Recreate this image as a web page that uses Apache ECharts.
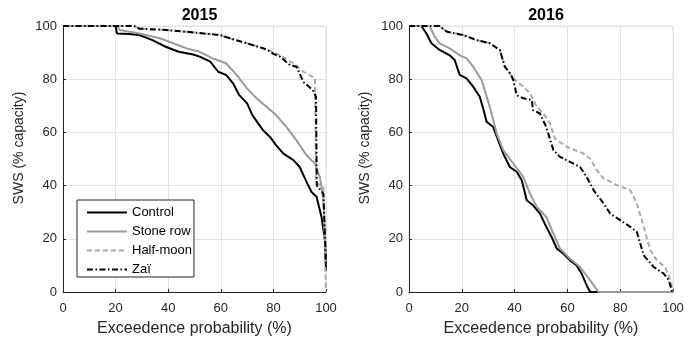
<!DOCTYPE html>
<html><head><meta charset="utf-8">
<script src="https://cdn.jsdelivr.net/npm/echarts@6/dist/echarts.min.js"></script>
<style>html,body{margin:0;padding:0;background:#fff}#c{width:700px;height:345px}</style>
</head><body><div id="c"></div>
<script>
const seriesNames = ['Control','Stone row','Half-moon','Zaï'];
const years = ['2015','2016'];
const xTicks = [0,20,40,60,80,100];

const ctrl2015X = [0,20,20.5,25,29,34,39,44,49.5,52,56,59,62,64.7,67,70,72,76,78.7,81,83.8,87.6,90,92.6,94.5,96.4,98.3,99.6,100];
const ctrl2015Y = [100,100,97.2,97,96.6,94.7,92.2,90.3,89.3,88.5,86.6,82.8,81.6,78.4,74,70.9,66.5,60.9,58.3,55.2,52,49.6,47,41.4,37.6,35.8,28.2,19.5,8];
const stone2015X = [0,20.5,21.6,29,36.8,41.9,47,52,57,62,66,70,73.6,77.4,81,85,88.8,92.6,95.8,97.7,99,100];
const stone2015Y = [100,100,98.5,97.2,95.4,93.5,91.6,90.3,87.8,86,81.6,76.5,72.8,69.6,66.5,62,57,51.4,48.3,43,34.5,12];
const half2015X = [0,27,29,39.3,49.5,59.6,64.7,70,77.4,82.5,87.6,91.4,95.8,96.3,99,100];
const half2015Y = [100,100,99,98.5,97.6,96.6,95,93.5,91.2,89,86,82.8,80.3,41,39.6,0];
const zai2015X = [0,27,29,39.3,49.5,59.6,64.7,70,77.4,80,82.5,86.3,88.8,91.4,95,96.2,96.5,99,100];
const zai2015Y = [100,100,99,98.5,97.6,96.6,95,93.5,91.2,89.5,88.5,85.3,84.7,79,75.9,73.4,40,37,10];

const ctrl2016X = [0,4.7,6.6,8.5,11.6,15.4,17.3,19.2,21.8,24.3,26.8,28.1,29.4,31.9,33.8,35.7,38.2,40.8,42.7,44.6,47,49.6,52,54,56,58.5,61,63.5,65.4,67.3,68.6,100];
const ctrl2016Y = [100,100,97.2,93.5,91,89,87.2,81.6,80.3,77.2,73.4,69,64,62,57,52,47,45.2,42,34.5,32.6,29.5,24.5,20.7,16.3,14.4,11.9,10,6.9,2.5,0,0];
const stone2016X = [0,7.8,9.7,11.6,15.4,19.2,21.8,24.3,27.5,30.6,33.2,35.7,39.5,43.3,45.8,48.4,52,54.7,57.2,61,64.8,68.6,71.8,100];
const stone2016Y = [100,100,96,93.5,91.6,89,87.8,84.7,79.7,69.6,59.6,53.3,48.3,43.3,37,32,28.2,21.9,16.3,12.5,9.4,4.4,0,0];
const half2016X = [0,11.6,14.2,20.5,25.6,30.6,34.4,36.3,39.5,43.3,45.8,48.4,50.9,53.4,55.3,59.7,66,68.6,71.1,73.7,78.7,83.8,86.3,88.9,91.4,93.9,97,99,100];
const half2016Y = [100,100,97.9,96.6,94.7,93.5,91,84.7,80.3,77.2,74.7,69.6,67.1,63.4,57.7,54.6,52.1,50.2,45.8,42.7,40.2,38.3,33.3,24.5,15.7,11.9,9.4,4.4,0];
const zai2016X = [0,11.6,14.2,20.5,25.6,30.6,34.4,36.3,38.5,39.5,40.8,43.3,46.5,47,49.6,52,54.7,57.2,61,64.8,67.3,69.9,73.7,76.2,80,83.8,86.3,88.9,92.7,96.5,98.4,99.7,100];
const zai2016Y = [100,100,97.9,96.6,94.7,93.5,91,84.7,82,79.7,74,72.8,72.2,68.4,67.1,62,53.3,50.8,48.9,47,43.3,38.3,33.3,29.5,27,24.5,22.6,13.8,9.4,6.9,4.4,0,0];

const zip = (xs, ys) => xs.map((x, i) => [x, ys[i]]);
const dataSets = [
  [zip(ctrl2015X, ctrl2015Y), zip(stone2015X, stone2015Y), zip(half2015X, half2015Y), zip(zai2015X, zai2015Y)],
  [zip(ctrl2016X, ctrl2016Y), zip(stone2016X, stone2016Y), zip(half2016X, half2016Y), zip(zai2016X, zai2016Y)]
];
const styles = [
  {color:'#000000', width:2, type:'solid'},
  {color:'#9a9a9a', width:2, type:'solid'},
  {color:'#a8a8a8', width:2, type:[5,3]},
  {color:'#000000', width:2, type:[6,2.5,1.5,2.5]}
];
const font = 'Liberation Sans, Arial, sans-serif';
const axisCol = '#262626';
const grids = [
  {left:63, top:26, width:263, height:266, show:true, borderColor:'#e3e3e3', borderWidth:1},
  {left:409, top:26, width:264, height:266, show:true, borderColor:'#e3e3e3', borderWidth:1}
];
const xAxes = grids.map((g, i) => ({
  type:'value', gridIndex:i, min:0, max:100, interval:20,
  name:'Exceedence probability (%)', nameLocation:'middle', nameGap:29,
  nameTextStyle:{fontFamily:font, fontSize:16, color:axisCol},
  axisLine:{lineStyle:{color:axisCol, width:1}},
  axisTick:{inside:true, length:3, lineStyle:{color:axisCol}},
  axisLabel:{fontFamily:font, fontSize:13, color:axisCol, margin:10, formatter: v => xTicks.includes(v) ? String(v) : ''},
  splitLine:{show:true, lineStyle:{color:'#e3e3e3', width:1}}
}));
const yAxes = grids.map((g, i) => ({
  type:'value', gridIndex:i, min:0, max:100, interval:20,
  name:'SWS (% capacity)', nameLocation:'middle', nameGap:37,
  nameTextStyle:{fontFamily:font, fontSize:14, color:axisCol, padding:[0,0,0,22]},
  axisLine:{show:true, lineStyle:{color:axisCol, width:1}},
  axisTick:{show:true, inside:true, length:3, lineStyle:{color:axisCol}},
  axisLabel:{fontFamily:font, fontSize:13, color:axisCol, margin:6},
  splitLine:{show:true, lineStyle:{color:'#e3e3e3', width:1}}
}));
const series = [];
dataSets.forEach((set, gi) => {
  set.forEach((d, si) => {
    series.push({
      name: seriesNames[si], type:'line', xAxisIndex:gi, yAxisIndex:gi,
      data: d, symbol:'none', showSymbol:false, animation:false,
      lineStyle: styles[si], itemStyle:{color: styles[si].color}, z: 3 + si
    });
  });
});
const chart = echarts.init(document.getElementById('c'), null, {renderer:'canvas'});
chart.setOption({
  backgroundColor:'#ffffff',
  animation:false,
  title: years.map((y, i) => ({
    text: y, left: grids[i].left + grids[i].width/2, top: 3, textAlign:'center',
    textStyle:{fontFamily:font, fontSize:16, fontWeight:'bold', color:'#000'}
  })),
  legend: {
    data: seriesNames, orient:'vertical', left:77, top:200,
    itemWidth:40, itemHeight:13, itemGap:6,
    backgroundColor:'#fff', borderColor:axisCol, borderWidth:1,
    padding:[6,2,1,9],
    itemStyle:{opacity:0},
    textStyle:{fontFamily:font, fontSize:13, color:'#000'},
    selectedMode:false
  },
  grid: grids, xAxis: xAxes, yAxis: yAxes, series: series
});
</script></body></html>
